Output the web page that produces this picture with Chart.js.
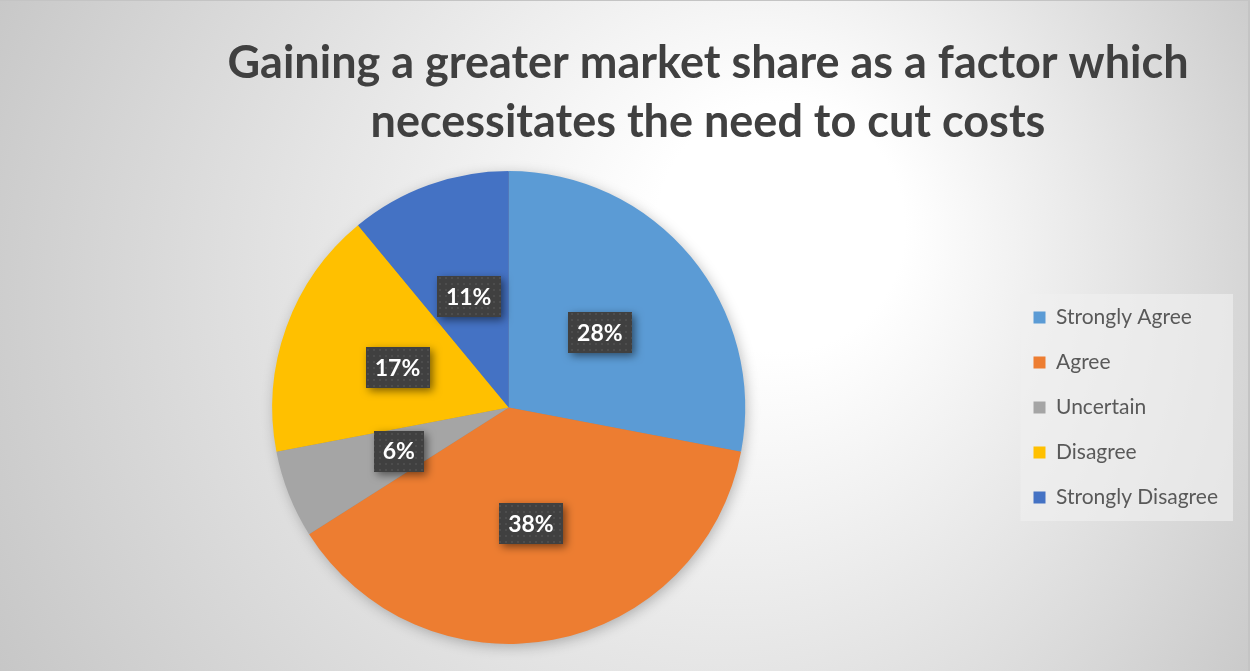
<!DOCTYPE html>
<html>
<head>
<meta charset="utf-8">
<script src="https://cdn.jsdelivr.net/npm/chart.js@4/dist/chart.umd.min.js"></script>
<style>
  html, body { margin: 0; padding: 0; background: #d8d8d8; }
  #wrap { width: 1250px; height: 671px; position: relative; }
</style>
</head>
<body>
<div id="wrap"><canvas id="chart" width="1250" height="671"></canvas></div>
<script>
// chart data
const categories = ["Strongly Agree", "Agree", "Uncertain", "Disagree", "Strongly Disagree"];
const shares     = [28, 38, 6, 17, 11];
const sliceColors = ["#5B9BD5", "#ED7D31", "#A5A5A5", "#FFC000", "#4472C4"];
const titleLines = ["Gaining a greater market share as a factor which",
                    "necessitates the need to cut costs"];

const FONT = "Lato, 'Open Sans', sans-serif";

// small dotted texture for the label boxes
function labelPattern(ctx) {
  const c = document.createElement("canvas");
  c.width = 6; c.height = 6;
  const p = c.getContext("2d");
  p.fillStyle = "#404040";
  p.fillRect(0, 0, 6, 6);
  p.fillStyle = "#4d4d4d";
  p.fillRect(1, 1, 2, 2);
  return ctx.createPattern(c, "repeat");
}

// background, legend panel, pie shadow, title
const backdrop = {
  id: "backdrop",
  beforeDraw(chart) {
    const { ctx, width, height } = chart;
    ctx.save();
    const g = ctx.createRadialGradient(800, 215, 40, 640, 320, 740);
    g.addColorStop(0, "#ffffff");
    g.addColorStop(0.12, "#ffffff");
    g.addColorStop(1, "#c6c6c6");
    ctx.fillStyle = g;
    ctx.fillRect(0, 0, width, height);
    ctx.fillStyle = "#c4c4c4";
    ctx.fillRect(0, 0, width, 1);
    ctx.fillRect(width - 2, 0, 2, height);

    // legend panel
    const lg = chart.legend;
    if (lg && lg.legendHitBoxes.length) {
      const hb = lg.legendHitBoxes;
      const first = hb[0], last = hb[hb.length - 1];
      const x0 = first.left - 13;
      const y0 = first.top - 13;
      const x1 = 1233;
      const y1 = last.top + last.height + 13;
      ctx.fillStyle = "rgba(240,240,240,0.65)";
      ctx.fillRect(x0, y0, x1 - x0, y1 - y0);
    }

    // title
    ctx.fillStyle = "#404040";
    ctx.font = "bold 45px " + FONT;
    ctx.textAlign = "center";
    ctx.textBaseline = "alphabetic";
    ctx.fillText(titleLines[0], 708, 78);
    ctx.fillText(titleLines[1], 708, 137);
    ctx.restore();
  },
  beforeDatasetsDraw(chart) {
    const arc = chart.getDatasetMeta(0).data[0];
    if (!arc) return;
    const { ctx } = chart;
    ctx.save();
    ctx.shadowColor = "rgba(0,0,0,0.28)";
    ctx.shadowBlur = 14;
    ctx.shadowOffsetX = 2;
    ctx.shadowOffsetY = 3;
    ctx.fillStyle = "#888";
    ctx.beginPath();
    ctx.arc(arc.x, arc.y, arc.outerRadius - 1, 0, Math.PI * 2);
    ctx.fill();
    ctx.restore();
  }
};

// percentage labels in dark boxes
const sliceLabels = {
  id: "sliceLabels",
  afterDatasetsDraw(chart) {
    const { ctx } = chart;
    const meta = chart.getDatasetMeta(0);
    const pat = labelPattern(ctx);
    ctx.save();
    ctx.font = "bold 23px " + FONT;
    ctx.textAlign = "center";
    ctx.textBaseline = "middle";
    meta.data.forEach((arc, i) => {
      const pt = arc.getCenterPoint();
      const txt = shares[i] + "%";
      const w = ctx.measureText(txt).width + 18;
      const h = 41;
      ctx.save();
      ctx.shadowColor = "rgba(0,0,0,0.5)";
      ctx.shadowBlur = 8;
      ctx.shadowOffsetX = 3;
      ctx.shadowOffsetY = 3;
      ctx.fillStyle = pat;
      ctx.fillRect(Math.round(pt.x - w / 2), Math.round(pt.y - h / 2), Math.round(w), h);
      ctx.restore();
      ctx.fillStyle = "#ffffff";
      ctx.fillText(txt, pt.x, pt.y + 1);
    });
    ctx.restore();
  }
};

new Chart(document.getElementById("chart"), {
  type: "pie",
  data: {
    labels: categories,
    datasets: [{
      data: shares,
      backgroundColor: sliceColors,
      borderWidth: 0
    }]
  },
  options: {
    responsive: false,
    animation: false,
    layout: { padding: { top: 171, bottom: 27, left: 8, right: 22 } },
    plugins: {
      title: { display: false },
      tooltip: { enabled: false },
      legend: {
        position: "right",
        align: "center",
        labels: {
          boxWidth: 12,
          boxHeight: 12,
          padding: 24,
          color: "#595959",
          font: { family: FONT, size: 21 }
        }
      }
    }
  },
  plugins: [backdrop, sliceLabels]
});
</script>
</body>
</html>
